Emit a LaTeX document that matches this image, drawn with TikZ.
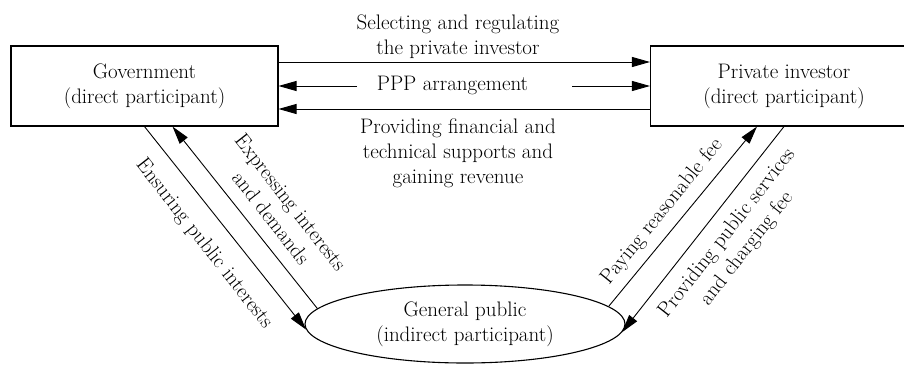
\documentclass[tikz,border=0pt]{standalone}
\usetikzlibrary{arrows.meta,shapes.geometric}
\begin{document}
\begin{tikzpicture}[x=1pt,y=-1pt,
  txt/.style={font=\fontsize{21}{25}\selectfont, inner sep=0pt, align=center},
  party/.style={txt, draw, line width=1.1pt, minimum width=267pt, minimum height=80pt},
  publicnode/.style={txt, ellipse, draw, line width=1.1pt, minimum width=320pt, minimum height=78pt},
  flow/.style={line width=0.9pt, -{Triangle[length=18pt,width=10pt]}},
  plain/.style={line width=0.9pt}]
\useasboundingbox (0,0) rectangle (904,364);
\clip (0,0) rectangle (904,364);

% the three participants
\node[party] (gov) at (144.5,86) {Government\\(direct participant)};
\node[party] (inv) at (784,86) {Private investor\\(direct participant)};
\node[publicnode] (pub) at (465,324) {General public\\(indirect participant)};

% government <-> private investor
\draw[flow] ([yshift=24pt]gov.east) -- ([yshift=24pt]inv.west);
\node[txt] (sel) at (458,37) {Selecting and regulating\\the private investor};

\node[txt] (ppp) at (452.5,85) {PPP arrangement};
\coordinate (pppL) at (357,86);
\coordinate (pppR) at (572,86);
\draw[flow] (pppL) -- (pppL -| gov.east);
\draw[flow] (pppR) -- (pppR -| inv.west);

\draw[flow] ([yshift=-23pt]inv.west) -- ([yshift=-23pt]gov.east);
\node[txt] (sup) at (458,153) {Providing financial and\\technical supports and\\gaining revenue};

% government <-> general public
\draw[flow] (gov.south) -- (pub.182);
\draw[flow] (pub.174) -- ([xshift=28pt]gov.south);
\node[txt, rotate=-52] (ens) at (204,244) {Ensuring public interests};
\node[txt, rotate=-52] (exp) at (281,210) {Expressing interests\\and demands};

% private investor <-> general public
\draw[flow] (pub.7) -- ([xshift=-27pt]inv.south);
\draw[flow] (inv.south) -- (pub.357);
\node[txt, rotate=51] (pay) at (662,212) {Paying reasonable fee};
\node[txt, rotate=52] (prov) at (737,241) {Providing public services\\and charging fee};
\end{tikzpicture}
\end{document}
